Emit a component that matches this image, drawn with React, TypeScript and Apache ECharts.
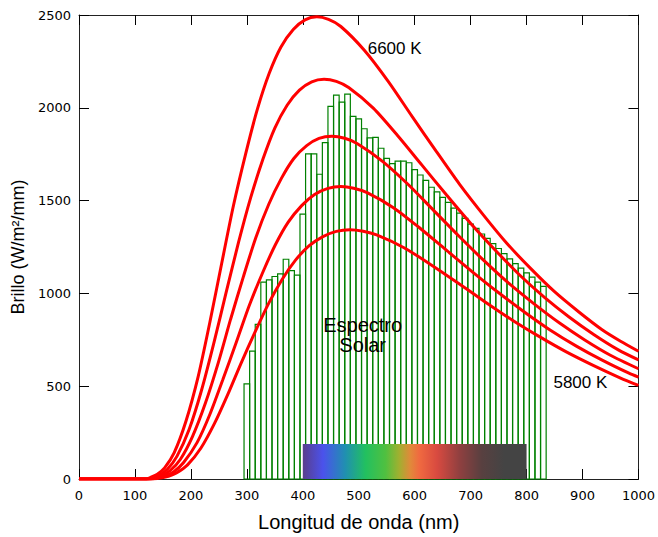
import React, { useEffect, useRef } from "react";
import * as echarts from "echarts";

// Solar spectrum histogram (bin centres in nm, 10 nm wide bins)
const solarNm = [300, 310, 320, 330, 340, 350, 360, 370, 380, 390, 400, 410, 420, 430, 440, 450, 460, 470, 480, 490, 500, 510, 520, 530, 540, 550, 560, 570, 580, 590, 600, 610, 620, 630, 640, 650, 660, 670, 680, 690, 700, 710, 720, 730, 740, 750, 760, 770, 780, 790, 800, 810, 820, 830];
const solarValues = [512, 689, 833, 1061, 1073, 1091, 1105, 1184, 1123, 1098, 1427, 1752, 1752, 1642, 1812, 2008, 2068, 2031, 2074, 1954, 1940, 1887, 1838, 1841, 1782, 1727, 1699, 1713, 1713, 1704, 1667, 1638, 1609, 1572, 1547, 1517, 1490, 1459, 1432, 1404, 1373, 1350, 1320, 1297, 1268, 1242, 1214, 1186, 1160, 1136, 1111, 1088, 1061, 1038];
const binWidth = 10;

// Black-body curves [nm, brightness]
const curve6600 = [[0, 0], [120, 0], [128, 9], [140, 26], [153, 60], [170, 141], [191, 310], [213, 552], [234, 846], [255, 1161], [276, 1472], [298, 1753], [319, 1994], [340, 2186], [361, 2328], [383, 2422], [404, 2474], [425, 2490], [446, 2476], [468, 2438], [510, 2310], [553, 2141], [595, 1955], [638, 1768], [680, 1589], [723, 1422], [765, 1269], [808, 1132], [850, 1009], [893, 901], [935, 804], [968, 742], [1000, 688]];
const curve6400 = [[0, 0], [122, 0], [131, 8], [145, 23], [158, 52], [175, 122], [197, 268], [219, 478], [241, 732], [263, 1005], [285, 1273], [307, 1517], [329, 1725], [350, 1891], [372, 2014], [394, 2095], [416, 2140], [438, 2154], [460, 2142], [482, 2109], [526, 1998], [569, 1852], [613, 1691], [657, 1530], [701, 1374], [745, 1230], [788, 1098], [832, 979], [876, 873], [920, 779], [964, 696], [1000, 642]];
const curve6200 = [[0, 0], [125, 0], [136, 7], [149, 20], [163, 45], [181, 105], [203, 230], [226, 409], [249, 627], [271, 861], [294, 1092], [316, 1300], [339, 1479], [362, 1621], [384, 1727], [407, 1796], [429, 1835], [452, 1847], [475, 1836], [497, 1808], [542, 1713], [588, 1588], [633, 1450], [678, 1312], [723, 1179], [768, 1055], [814, 942], [859, 840], [904, 749], [949, 668], [1000, 594]];
const curve6000 = [[0, 0], [128, 0], [140, 6], [154, 17], [169, 38], [187, 89], [211, 196], [234, 349], [257, 535], [281, 735], [304, 932], [328, 1110], [351, 1262], [374, 1384], [398, 1473], [421, 1533], [445, 1566], [468, 1576], [491, 1567], [515, 1543], [562, 1462], [608, 1355], [655, 1237], [702, 1119], [749, 1006], [796, 900], [842, 803], [889, 716], [936, 639], [983, 570], [1000, 549]];
const curve5800 = [[0, 0], [132, 0], [145, 5], [160, 14], [174, 32], [194, 76], [218, 167], [242, 298], [266, 456], [290, 626], [315, 794], [339, 946], [363, 1075], [387, 1179], [411, 1256], [436, 1306], [460, 1334], [484, 1343], [508, 1335], [532, 1315], [581, 1246], [629, 1155], [678, 1055], [726, 954], [774, 857], [823, 767], [871, 685], [920, 611], [968, 544], [1000, 504]];
const curves = [curve6600, curve6400, curve6200, curve6000, curve5800];

// Visible spectrum band [start nm, end nm, height]
const spectrumBand = [[400, 800, 189]];

const xTicks = { min: 0, max: 1000, interval: 100 };
const yTicks = { min: 0, max: 2500, interval: 500 };

const labels = [
  { text: "6600 K", at: [516, 2320], align: "left" },
  { text: "5800 K", at: [848, 522], align: "left" },
  { text: "Espectro\nSolar", at: [507, 774], align: "center" },
];

export default function App() {
  const ref = useRef<HTMLDivElement>(null);
  useEffect(() => {
    if (!ref.current) return;
    const chart = echarts.init(ref.current, undefined, { renderer: "svg" });
    const tickFont = { fontFamily: "DejaVu Sans", fontSize: 13, color: "#000", formatter: (v: number) => String(v) };
    const axisLine = { show: true, onZero: false, lineStyle: { color: "#222", width: 1 } };
    const axisTick = { show: true, inside: true, length: 10, lineStyle: { color: "#000", width: 1 } };
    const option: any = {
      animation: false,
      backgroundColor: "#fff",
      grid: { left: 79, right: 19, top: 15, bottom: 56, containLabel: false },
      xAxis: [
        {
          type: "value", ...xTicks, position: "bottom",
          name: "Longitud de onda (nm)", nameLocation: "middle", nameGap: 33,
          nameTextStyle: { fontFamily: "Liberation Sans", fontSize: 20, color: "#000" },
          axisLine, axisTick, splitLine: { show: false },
          axisLabel: { ...tickFont, margin: 10 },
        },
        {
          type: "value", ...xTicks, position: "top",
          axisLine, axisTick, splitLine: { show: false }, axisLabel: { show: false },
        },
      ],
      yAxis: [
        {
          type: "value", ...yTicks, position: "left",
          name: "Brillo (W/m²/mm)", nameLocation: "middle", nameGap: 52, nameRotate: 90,
          nameTextStyle: { fontFamily: "Liberation Sans", fontSize: 18, color: "#000" },
          axisLine, axisTick, splitLine: { show: false },
          axisLabel: { ...tickFont, margin: 8 },
        },
        {
          type: "value", ...yTicks, position: "right",
          axisLine, axisTick, splitLine: { show: false }, axisLabel: { show: false },
        },
      ],
      series: [
        {
          type: "custom",
          name: "solar",
          z: 2,
          data: solarNm.map((nm, i) => [nm, solarValues[i]]),
          renderItem: (params: any, api: any) => {
            const c = api.value(0);
            const v = api.value(1);
            const p0 = api.coord([c - binWidth / 2, v]);
            const p1 = api.coord([c + binWidth / 2, 0]);
            return {
              type: "rect",
              shape: { x: p0[0], y: p0[1], width: p1[0] - p0[0], height: p1[1] - p0[1] },
              style: { fill: "none", stroke: "#008000", lineWidth: 1.2 },
            };
          },
        },
        {
          type: "custom",
          name: "spectrum",
          z: 3,
          data: spectrumBand,
          renderItem: (params: any, api: any) => {
            const p0 = api.coord([api.value(0), api.value(2)]);
            const p1 = api.coord([api.value(1), 0]);
            return {
              type: "rect",
              shape: { x: p0[0], y: p0[1], width: p1[0] - p0[0], height: p1[1] - p0[1] },
              style: {
                fill: new echarts.graphic.LinearGradient(0, 0, 1, 0, [
                  { offset: 0, color: "#5a3e8c" },
                  { offset: 0.09, color: "#4b52ec" },
                  { offset: 0.19, color: "#2090b0" },
                  { offset: 0.28, color: "#22c060" },
                  { offset: 0.37, color: "#50c040" },
                  { offset: 0.43, color: "#a0b030" },
                  { offset: 0.48, color: "#e08a3a" },
                  { offset: 0.52, color: "#f06a40" },
                  { offset: 0.6, color: "#d84a40" },
                  { offset: 0.7, color: "#904040" },
                  { offset: 0.8, color: "#584040" },
                  { offset: 0.9, color: "#444444" },
                  { offset: 1, color: "#444444" },
                ]),
              },
            };
          },
        },
        ...curves.map((d, i) => ({
          type: "line",
          name: "c" + i,
          z: 4,
          data: d,
          showSymbol: false,
          smooth: 0.25,
          lineStyle: { color: "#ff0000", width: 3 },
        })),
      ],
    };
    chart.setOption(option);
    const graphic = labels.map((l) => {
      const p = chart.convertToPixel({ gridIndex: 0 } as any, l.at) as number[];
      return {
        type: "text",
        x: p[0],
        y: p[1],
        z: 10,
        style: {
          text: l.text,
          fontFamily: "Liberation Sans",
          fontSize: l.align === "center" ? 20 : 17,
          lineHeight: 20,
          fill: "#000",
          align: l.align,
          verticalAlign: "middle",
        },
      };
    });
    chart.setOption({ graphic });
    return () => chart.dispose();
  }, []);
  return <div ref={ref} style={{ position: "fixed", left: 0, top: 0, width: 658, height: 537 }} />;
}
